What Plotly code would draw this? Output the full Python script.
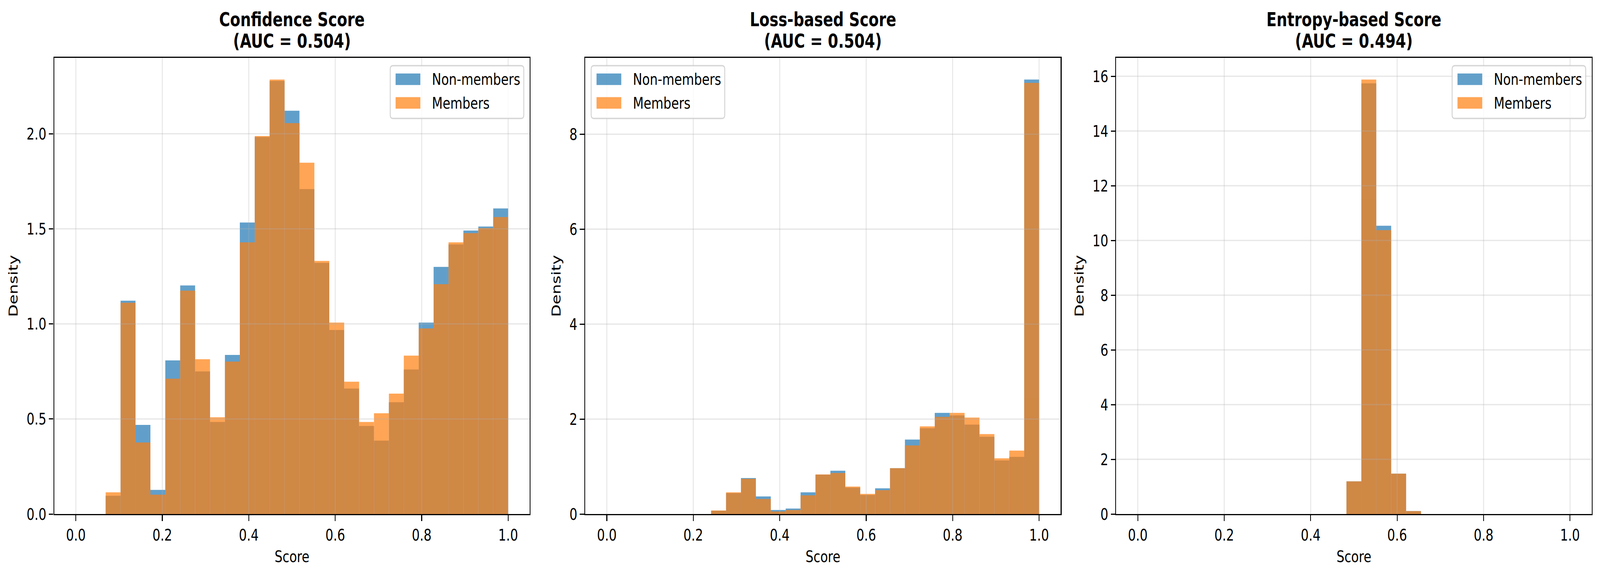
import numpy as np
import plotly.graph_objects as go
from plotly.subplots import make_subplots

# 29 equal bins over [0, 1], shared by the three panels
bin_edges = np.linspace(0, 1, 30)

titles = ["Confidence Score", "Loss-based Score", "Entropy-based Score"]
auc = [0.504, 0.504, 0.494]

# densities per bin
conf_non = [0, 0, 0.096, 1.122, 0.469, 0.127, 0.808, 1.202, 0.750, 0.484,
            0.837, 1.533, 1.983, 2.278, 2.121, 1.709, 1.321, 0.968, 0.660,
            0.463, 0.386, 0.588, 0.760, 1.007, 1.300, 1.418, 1.491, 1.512, 1.607]
conf_mem = [0, 0, 0.114, 1.111, 0.376, 0.102, 0.712, 1.175, 0.814, 0.509,
            0.802, 1.429, 1.988, 2.285, 2.056, 1.848, 1.331, 1.007, 0.696,
            0.484, 0.530, 0.633, 0.833, 0.976, 1.209, 1.429, 1.477, 1.504, 1.562]

loss_non = [0, 0, 0, 0, 0, 0, 0, 0.070, 0.440, 0.757, 0.371, 0.085, 0.116,
            0.456, 0.830, 0.911, 0.556, 0.402, 0.541, 0.965, 1.568, 1.807,
            2.131, 2.077, 1.884, 1.629, 1.127, 1.205, 9.151]
loss_mem = [0, 0, 0, 0, 0, 0, 0, 0.075, 0.456, 0.741, 0.317, 0.054, 0.085,
            0.394, 0.834, 0.865, 0.579, 0.425, 0.502, 0.965, 1.444, 1.846,
            2.046, 2.131, 2.031, 1.683, 1.174, 1.336, 9.081]

ent_non = [0, 0, 0, 0, 0, 0, 0, 0, 0, 0, 0, 0, 0, 0, 1.193, 15.74, 10.536,
           1.474, 0.107, 0, 0, 0, 0, 0, 0, 0, 0, 0, 0]
ent_mem = [0, 0, 0, 0, 0, 0, 0, 0, 0, 0, 0, 0, 0, 0, 1.193, 15.88, 10.375,
           1.474, 0.107, 0, 0, 0, 0, 0, 0, 0, 0, 0, 0]

non_members = [conf_non, loss_non, ent_non]
members = [conf_mem, loss_mem, ent_mem]

x_ticks = [0.0, 0.2, 0.4, 0.6, 0.8, 1.0]
y_ticks = [[0.0, 0.5, 1.0, 1.5, 2.0],
           [0, 2, 4, 6, 8],
           [0, 2, 4, 6, 8, 10, 12, 14, 16]]
y_formats = [".1f", "d", "d"]
legend_side = ["right", "left", "right"]

C0 = "rgb(31,119,180)"
C1 = "rgb(255,127,14)"
FONT = "DejaVu Sans"
FS = 41.7
LW = 3.3

W, H = 5367, 1471
ML, MR, MT, MB = 182, 28, 148, 156
AX_W, AX_H = 1595, 1167

fig = make_subplots(rows=1, cols=3, horizontal_spacing=186 / (W - ML - MR))

bin_w = bin_edges[1] - bin_edges[0]
for i in range(3):
    for name, vals, col in [("Non-members", non_members[i], C0),
                            ("Members", members[i], C1)]:
        fig.add_trace(go.Bar(x=bin_edges[:-1], y=vals, width=bin_w, offset=0,
                             name=name, marker=dict(color=col, line=dict(width=0)),
                             opacity=0.7, showlegend=False),
                      row=1, col=i + 1)


def rounded_path(x0, x1, y0, y1, r):
    rx, ry = r / AX_W, r / AX_H
    return (f"M {x0+rx},{y0} L {x1-rx},{y0} Q {x1},{y0} {x1},{y0+ry} "
            f"L {x1},{y1-ry} Q {x1},{y1} {x1-rx},{y1} L {x0+rx},{y1} "
            f"Q {x0},{y1} {x0},{y1-ry} L {x0},{y0+ry} Q {x0},{y0} {x0+rx},{y0} Z")


shapes = []
annotations = []
for i in range(3):
    xa = "x" if i == 0 else f"x{i+1}"
    ya = "y" if i == 0 else f"y{i+1}"
    ymax = max(max(non_members[i]), max(members[i])) * 1.05

    fig.update_xaxes(range=[-0.05, 1.05], tickvals=x_ticks,
                     ticktext=[f"{v:.1f}" for v in x_ticks],
                     title=dict(text="Score", font=dict(family=FONT, size=FS, color="black"),
                                standoff=17),
                     row=1, col=i + 1)
    fig.update_yaxes(range=[0, ymax], tickvals=y_ticks[i], tickformat=y_formats[i],
                     title=dict(text="Density", font=dict(family=FONT, size=FS, color="black"),
                                standoff=17),
                     row=1, col=i + 1)

    # grid above the bars, as matplotlib draws it
    grid = dict(color="rgba(176,176,176,0.3)", width=LW)
    for v in x_ticks:
        shapes.append(dict(type="line", xref=xa, yref=f"{ya} domain",
                           x0=v, x1=v, y0=0, y1=1, line=grid, layer="above"))
    for v in y_ticks[i][1:]:
        shapes.append(dict(type="line", xref=f"{xa} domain", yref=ya,
                           x0=0, x1=1, y0=v, y1=v, line=grid, layer="above"))

    # legend box
    if legend_side[i] == "right":
        bx0 = (AX_W - 20 - 448) / AX_W
    else:
        bx0 = 20 / AX_W
    bx1 = bx0 + 448 / AX_W
    by1 = 1 - 20 / AX_H
    by0 = 1 - 155 / AX_H
    shapes.append(dict(type="path", xref=f"{xa} domain", yref=f"{ya} domain",
                       path=rounded_path(bx0, bx1, by0, by1, 9),
                       fillcolor="rgba(255,255,255,0.8)",
                       line=dict(color="rgba(204,204,204,0.8)", width=LW), layer="above"))
    px0 = bx0 + 18 / AX_W
    px1 = px0 + 83 / AX_W
    tx = bx0 + 138 / AX_W
    for k, (name, col) in enumerate([("Non-members", C0), ("Members", C1)]):
        top = 40 + 60.5 * k
        shapes.append(dict(type="rect", xref=f"{xa} domain", yref=f"{ya} domain",
                           x0=px0, x1=px1, y0=1 - (top + 29.5) / AX_H, y1=1 - top / AX_H,
                           fillcolor=col, opacity=0.7, line=dict(width=0), layer="above"))
        annotations.append(dict(text=name, xref=f"{xa} domain", yref=f"{ya} domain",
                                x=tx, y=1 - (top + 14.75) / AX_H, xanchor="left",
                                yanchor="middle", showarrow=False,
                                font=dict(family=FONT, size=FS, color="black")))

    # two-line bold title
    for line, shift in [(titles[i], 98), (f"(AUC = {auc[i]:.3f})", 43)]:
        annotations.append(dict(text=f"<b>{line}</b>", xref=f"{xa} domain",
                                yref=f"{ya} domain", x=0.5, y=1, yshift=shift,
                                xanchor="center", yanchor="middle", showarrow=False,
                                font=dict(family=FONT, size=50, color="black")))

axis_style = dict(showline=True, linewidth=LW, linecolor="black", mirror=True,
                  ticks="outside", ticklen=15, tickwidth=LW, tickcolor="black",
                  showgrid=False, zeroline=False, layer="above traces",
                  tickfont=dict(family=FONT, size=FS, color="black"))
fig.update_xaxes(**axis_style)
fig.update_yaxes(**axis_style)

fig.update_layout(width=W, height=H, barmode="overlay",
                  margin=dict(l=ML, r=MR, t=MT, b=MB),
                  plot_bgcolor="white", paper_bgcolor="white",
                  font=dict(family=FONT, size=FS, color="black"),
                  shapes=shapes, annotations=annotations, showlegend=False)

# drop the page margin and fit the 5367x1471 figure into the window
# (no-op when the window already has that size)
fit_js = """
(function(){
  var gd = document.getElementById('{plot_id}');
  document.documentElement.style.overflow = 'hidden';
  document.body.style.margin = '0';
  document.body.style.overflow = 'hidden';
  var sx = window.innerWidth / %d, sy = window.innerHeight / %d;
  if (Math.abs(sx - 1) > 0.002 || Math.abs(sy - 1) > 0.002) {
    gd.style.transformOrigin = '0 0';
    gd.style.transform = 'scale(' + sx + ',' + sy + ')';
  }
})();
""" % (W, H)

fig.write_html("out.html", post_script=fit_js, config={"displayModeBar": False})
